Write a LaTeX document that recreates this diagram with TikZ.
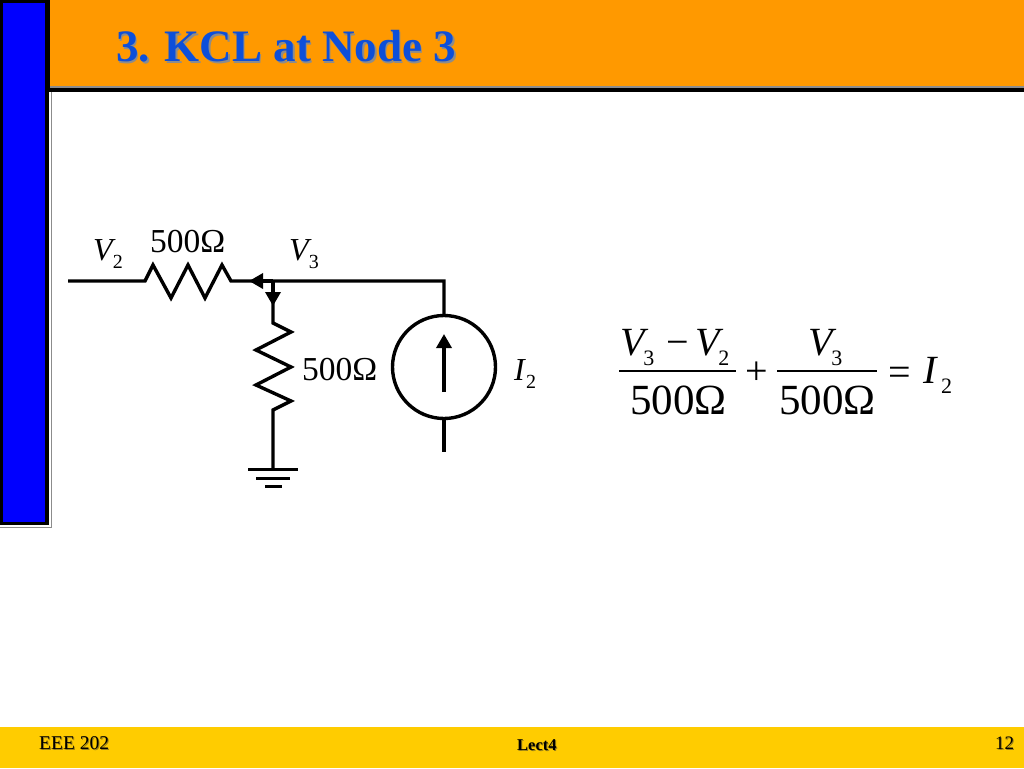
\documentclass[tikz,border=0pt]{standalone}
\usepackage{fontspec}
\setmainfont{Liberation Serif}
\usetikzlibrary{arrows.meta}
\definecolor{myorange}{rgb}{1,0.6,0}
\definecolor{myyellow}{rgb}{1,0.8,0}
\definecolor{myblue}{rgb}{0,0,1}
\definecolor{mytitle}{rgb}{0.05,0.31,0.85}
\definecolor{myshadow}{rgb}{0.55,0.55,0.55}
\definecolor{myfootshadow}{rgb}{0.6,0.5,0.1}
\tikzset{
    wire/.style={draw=black, line width=3.4pt, line join=miter},
    thinwire/.style={draw=black, line width=3pt},
    tip/.style={wire, -{Triangle[length=14pt,width=15pt]}, shorten >=0pt},
    label/.style={anchor=base west, inner sep=0pt, text=black},
}
\newcommand{\px}[1]{\fontsize{#1}{#1}\selectfont}
\newcommand{\sym}[4]{\textit{#1}\raisebox{-#4}{\px{#3}#2}}
\newcommand{\shadowed}[3]{\rlap{\kern#3\raisebox{-#3}{\textcolor{#2}{#1}}}#1}
\begin{document}
\begin{tikzpicture}[x=1pt, y=-1pt]
      \useasboundingbox[fill=white] (0,0) rectangle (1024,768);
      % slide frame
      \fill[myorange] (50,0) rectangle (1024,86);
      \fill[myyellow] (0,727) rectangle (1024,768);
      \fill[black]    (0,0) rectangle (49,525);
      \fill[myblue]   (3,3) rectangle (45,522);
      \fill[black]    (47,0) rectangle (50,92);
      \fill[black]    (47,88) rectangle (1024,92);
      \draw[myshadow, line width=1pt] (51,92) -- (51,527.5) -- (0,527.5);
      \fill[myshadow] (50,86) rectangle (1024,88);
      \node[label, text=mytitle] (title) at (116,62) {\px{45}\bfseries\shadowed{3. KCL at Node 3}{myshadow}{1.5pt}};
      \node[label] (foot1) at (39,749) {\px{19.5}\shadowed{EEE 202}{myfootshadow}{1pt}};
      \node[label] (foot2) at (517,750) {\px{16.5}\bfseries\shadowed{Lect4}{myfootshadow}{1pt}};
      \node[label] (foot3) at (995,749) {\px{19}\shadowed{12}{myfootshadow}{1pt}};
      % circuit
      \coordinate (A) at (68,281);
      \coordinate (R1) at (145,281);
      \coordinate (R2) at (231,281);
      \coordinate (N) at (273,281);
      \coordinate (C) at (444,281);
      \coordinate (R3) at (273,323);
      \coordinate (R4) at (273,410);
      \coordinate (G) at (273,469);
      \node[circle, draw=black, line width=3.4pt, minimum size=103pt, inner sep=0pt] (S) at (444,367) {};
      \coordinate (E) at (444,452);
      \coordinate (U1) at (444,392);
      \coordinate (U2) at (444,334);
      \draw[wire] (A) -- (R1) -- (153,265) -- (171,298) -- (188,265) -- (205,298) -- (222,265) -- (R2) -- (N) -- (C) -- (S.north);
      \draw[wire] (N) -- (R3) -- (291,332) -- (256,350) -- (291,367) -- (256,385) -- (291,401) -- (R4) -- (G);
      \draw[wire] (S.south) -- (E);
      \draw[tip] (U1) -- (U2);
      \draw[tip] (N) -- (249,281);
      \draw[tip] (N) -- (273,306);
      \draw[thinwire] (248,469) -- (298,469);
      \draw[thinwire] (256,478) -- (290,478);
      \draw[thinwire] (265,486) -- (282,486);
      \node[label] (L1) at (93,260)  {\px{32}\sym{V}{\kern-3pt 2}{20}{8pt}};
      \node[label] (L2) at (150,252) {\px{33.5}500Ω};
      \node[label] (L3) at (289,260) {\px{32}\sym{V}{\kern-3pt 3}{20}{8pt}};
      \node[label] (L4) at (302,380) {\px{33.5}500Ω};
      \node[label] (L5) at (514,380) {\px{32}\sym{I}{2}{20}{8pt}};
      % equation
      \node[label] (Na) at (620,355) {\px{40}\sym{V}{\kern-5pt 3}{22}{10pt}};
      \node[label] (Nm) at (666,355) {\px{40}−};
      \node[label] (Nb) at (695,355) {\px{40}\sym{V}{\kern-5pt 2}{22}{10pt}};
      \node[label] (Da) at (630,414) {\px{43}500Ω};
      \node[label] (Pl) at (745,384) {\px{40}+};
      \node[label] (Nc) at (808,355) {\px{40}\sym{V}{\kern-5pt 3}{22}{10pt}};
      \node[label] (Db) at (779,414) {\px{43}500Ω};
      \node[label] (Eq) at (888,385) {\px{40}=};
      \node[label] (Rh) at (923,383) {\px{40}\sym{I}{\kern3pt 2}{22}{10pt}};
      \draw[black, line width=1.5pt] (619,371) -- (736,371);
      \draw[black, line width=1.5pt] (777,371) -- (877,371);
    \end{tikzpicture}
\end{document}
